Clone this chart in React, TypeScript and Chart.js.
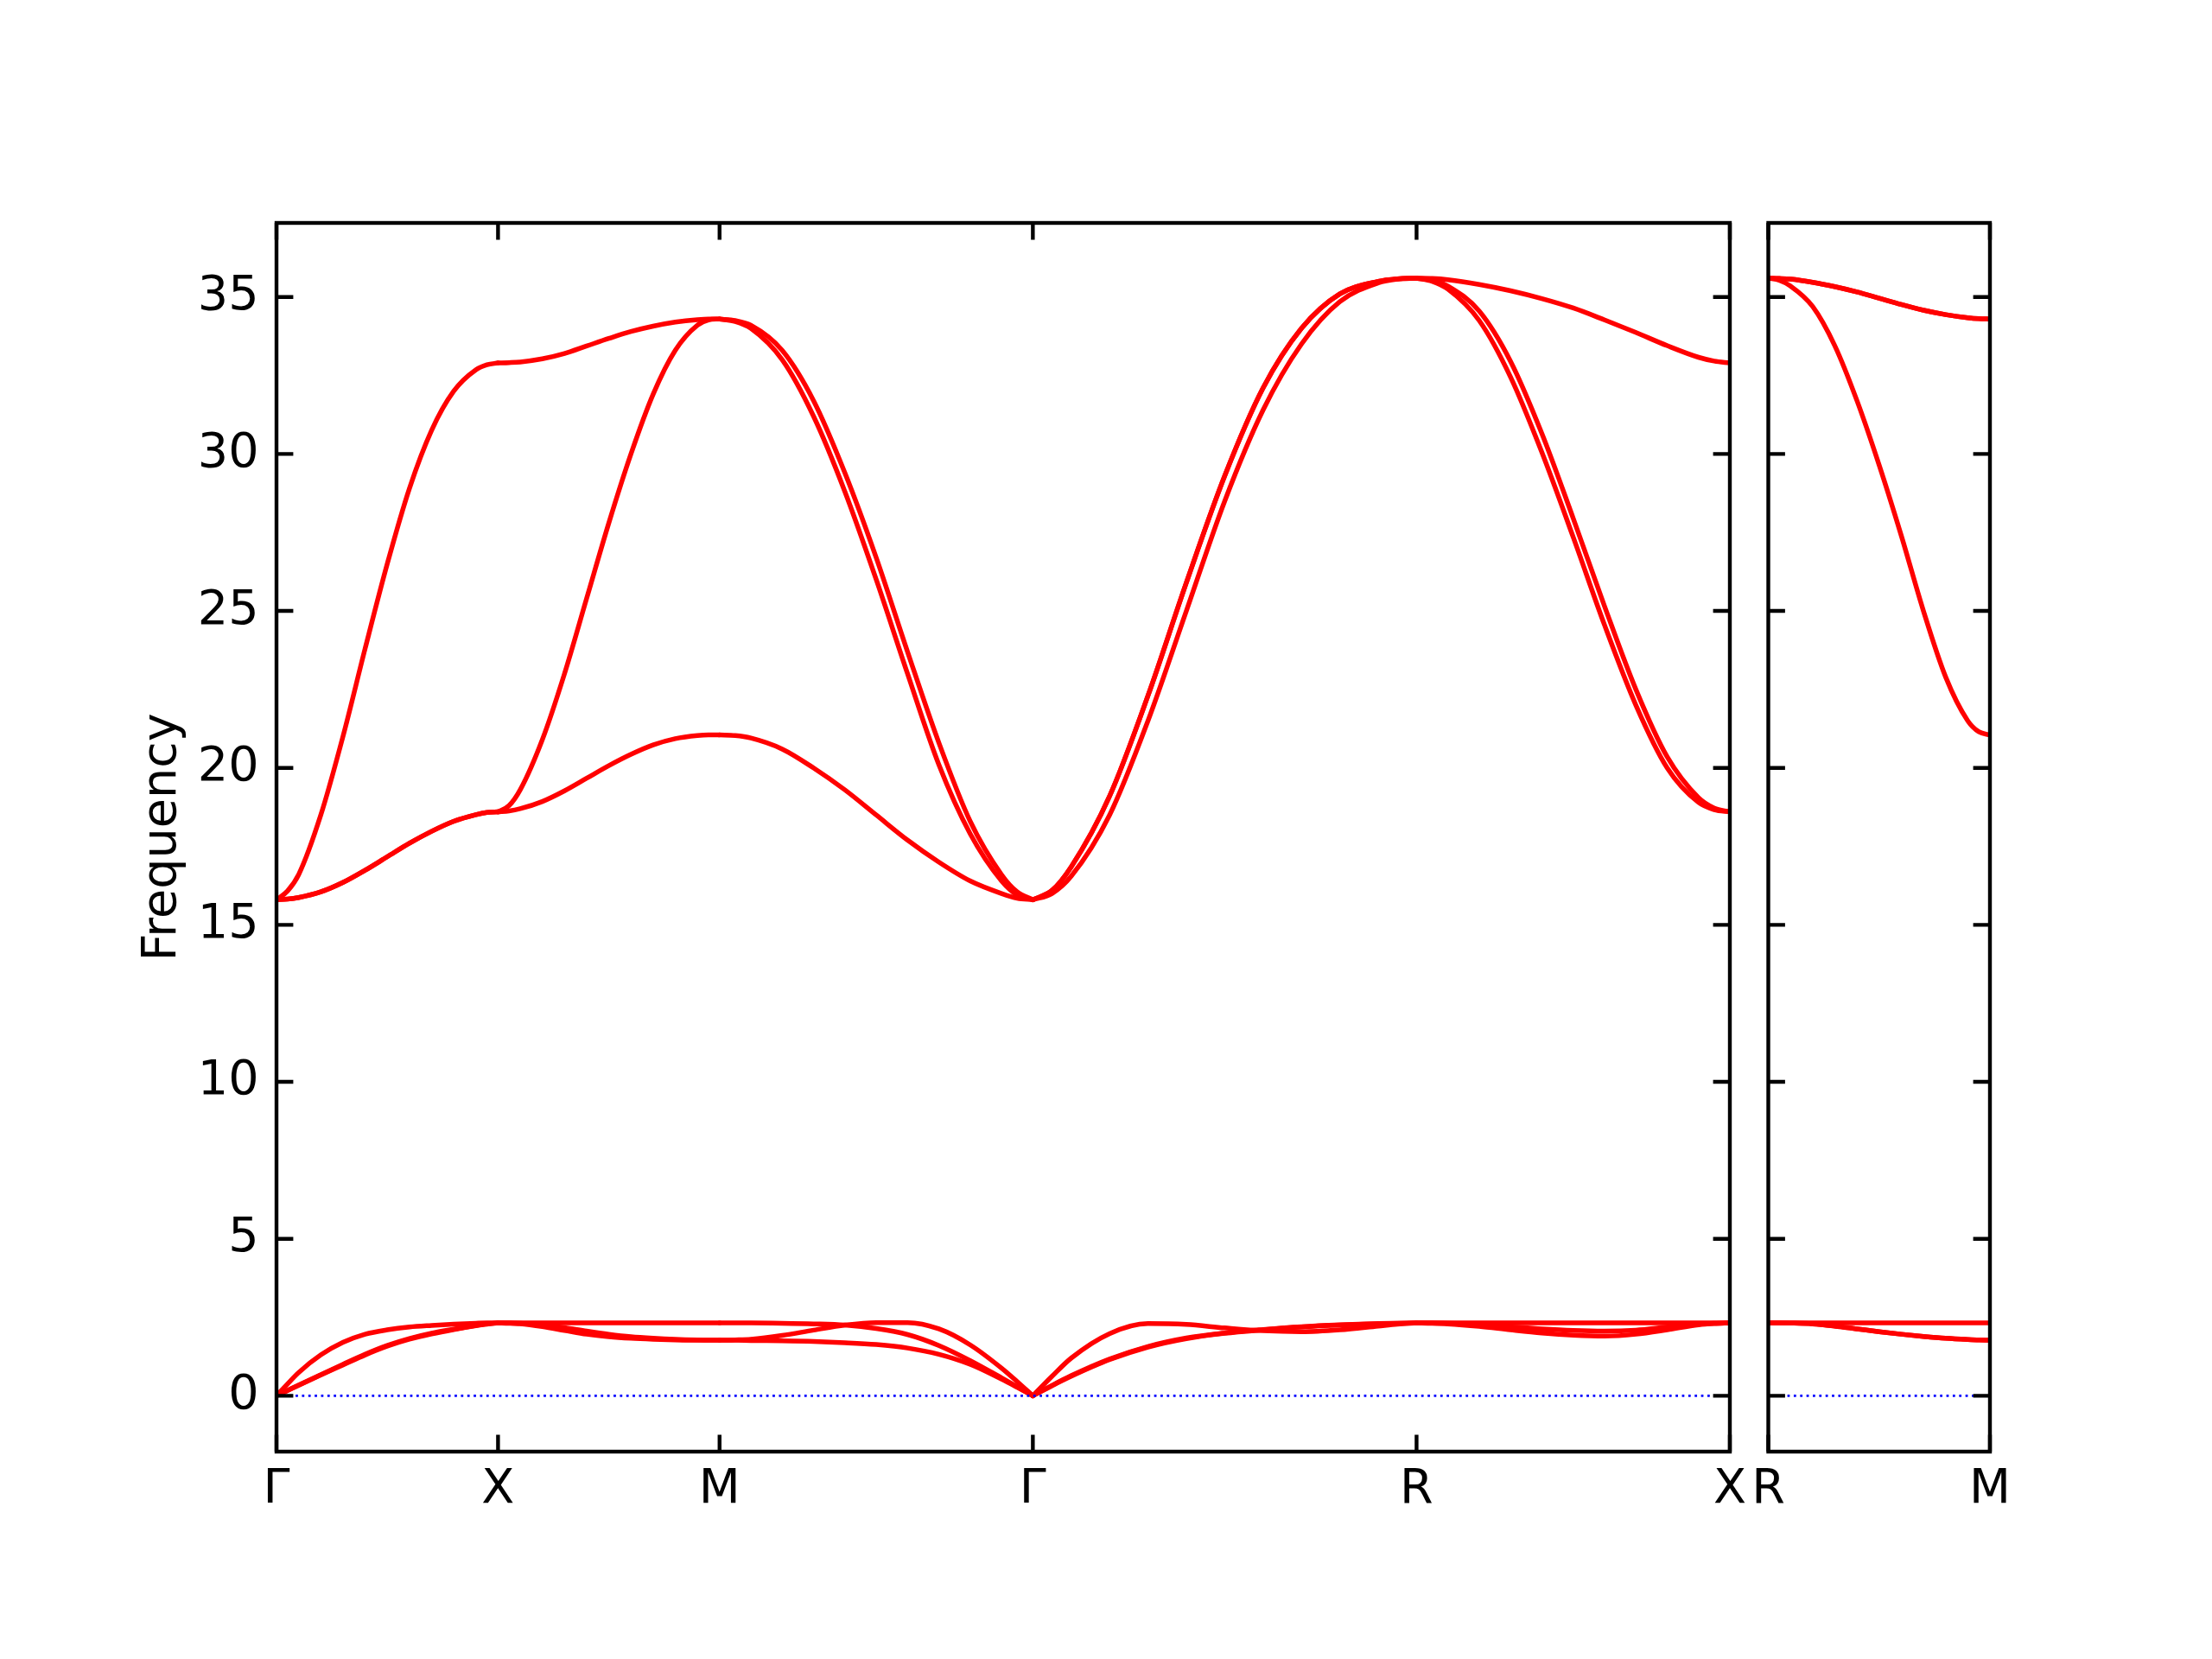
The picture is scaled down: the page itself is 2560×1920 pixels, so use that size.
import React, { useEffect, useRef } from 'react';
import { Chart, registerables } from 'chart.js';

Chart.register(...registerables);

const FONT_FAMILY = "'DejaVu Sans', 'Liberation Sans', sans-serif";
const FONT_SIZE = 55.6;

// ---- k-path ----
const mainLabels = ['Γ', 'X', 'M', 'Γ', 'R', 'X'];
const sideLabels = ['R', 'M'];
const mainSegLengths = [0.5, 0.5, 0.70711, 0.86603, 0.70711];
const sideSegLengths = [0.5];
// fractional positions along each segment where the frequencies below are read
const tSamples = [0, 0.05, 0.1, 0.2, 0.3, 0.4, 0.5, 0.6, 0.7, 0.8, 0.9, 0.95, 1];

// ---- y axis ----
const yTickValues = [0, 5, 10, 15, 20, 25, 30, 35];
const yAxisMin = -1.78;
const yAxisMax = 37.36;
const yAxisTitle = 'Frequency';

// ---- band frequencies at tSamples along each segment ----
// Γ -> X
const bandsGX = [
  [0, 0.38, 0.74, 1.3, 1.7, 1.96, 2.1, 2.19, 2.24, 2.28, 2.31, 2.32, 2.32],
  [0, 0.17, 0.34, 0.67, 1.0, 1.32, 1.6, 1.82, 1.99, 2.12, 2.24, 2.29, 2.32],
  [0, 0.165, 0.33, 0.66, 0.98, 1.3, 1.58, 1.8, 1.97, 2.11, 2.23, 2.28, 2.32],
  [15.8, 15.82, 15.87, 16.05, 16.35, 16.74, 17.17, 17.6, 17.98, 18.3, 18.51, 18.58, 18.6],
  [15.8, 15.82, 15.87, 16.05, 16.35, 16.74, 17.17, 17.6, 17.98, 18.3, 18.51, 18.58, 18.6],
  [15.8, 16.08, 16.6, 18.5, 21.0, 23.8, 26.5, 28.9, 30.75, 32.0, 32.68, 32.84, 32.9],
];
// X -> M
const bandsXM = [
  [2.32, 2.32, 2.32, 2.32, 2.32, 2.32, 2.32, 2.32, 2.32, 2.32, 2.32, 2.32, 2.32],
  [2.32, 2.31, 2.29, 2.2, 2.08, 1.96, 1.88, 1.83, 1.8, 1.78, 1.77, 1.77, 1.77],
  [2.32, 2.32, 2.31, 2.26, 2.17, 2.06, 1.96, 1.88, 1.83, 1.795, 1.775, 1.77, 1.77],
  [18.6, 18.63, 18.7, 18.93, 19.27, 19.67, 20.07, 20.43, 20.73, 20.93, 21.03, 21.05, 21.05],
  [18.6, 18.8, 19.3, 20.9, 23.0, 25.4, 27.8, 30.0, 31.9, 33.3, 34.1, 34.27, 34.3],
  [32.9, 32.91, 32.93, 33.03, 33.2, 33.44, 33.68, 33.9, 34.07, 34.2, 34.28, 34.3, 34.3],
];
// M -> Γ
const bandsMG = [
  [1.77, 1.78, 1.8, 1.92, 2.09, 2.25, 2.33, 2.33, 2.13, 1.62, 0.88, 0.45, 0],
  [2.32, 2.32, 2.32, 2.31, 2.29, 2.25, 2.14, 1.95, 1.6, 1.12, 0.57, 0.29, 0],
  [1.77, 1.77, 1.76, 1.75, 1.73, 1.69, 1.63, 1.52, 1.32, 1.0, 0.53, 0.27, 0],
  [21.05, 21.03, 20.95, 20.6, 20.0, 19.3, 18.5, 17.7, 17.0, 16.4, 16.0, 15.85, 15.8],
  [34.3, 34.22, 34.0, 33.0, 31.2, 28.8, 26.0, 23.0, 20.1, 17.9, 16.4, 15.95, 15.8],
  [34.3, 34.25, 34.1, 33.3, 31.7, 29.4, 26.7, 23.7, 20.8, 18.3, 16.6, 16.05, 15.8],
];
// Γ -> R
const bandsGR = [
  [0, 0.62, 1.2, 1.98, 2.3, 2.27, 2.16, 2.07, 2.04, 2.1, 2.22, 2.28, 2.32],
  [0, 0.33, 0.64, 1.17, 1.57, 1.84, 2.0, 2.11, 2.2, 2.26, 2.3, 2.31, 2.32],
  [0, 0.32, 0.62, 1.15, 1.55, 1.82, 1.99, 2.1, 2.19, 2.25, 2.29, 2.31, 2.32],
  [15.8, 16.0, 16.55, 18.5, 21.5, 25.0, 28.5, 31.4, 33.5, 34.85, 35.45, 35.57, 35.6],
  [15.8, 16.1, 16.85, 19.1, 22.3, 25.9, 29.3, 32.1, 34.0, 35.1, 35.5, 35.58, 35.6],
  [15.8, 16.1, 16.85, 19.1, 22.3, 25.9, 29.3, 32.1, 34.0, 35.1, 35.5, 35.58, 35.6],
];
// R -> X
const bandsRX = [
  [2.32, 2.32, 2.32, 2.32, 2.32, 2.32, 2.32, 2.32, 2.32, 2.32, 2.32, 2.32, 2.32],
  [2.32, 2.31, 2.29, 2.21, 2.1, 2.0, 1.93, 1.9, 1.96, 2.1, 2.26, 2.3, 2.32],
  [2.32, 2.32, 2.31, 2.27, 2.2, 2.13, 2.08, 2.06, 2.09, 2.19, 2.28, 2.31, 2.32],
  [35.6, 35.5, 35.25, 34.25, 32.45, 30.05, 27.35, 24.55, 22.0, 20.0, 18.9, 18.67, 18.6],
  [35.6, 35.54, 35.35, 34.55, 32.95, 30.65, 27.95, 25.15, 22.5, 20.35, 19.05, 18.72, 18.6],
  [35.6, 35.59, 35.55, 35.4, 35.2, 34.95, 34.65, 34.27, 33.87, 33.45, 33.08, 32.96, 32.9],
];
// R -> M (second panel)
const bandsRM = [
  [2.32, 2.32, 2.32, 2.32, 2.32, 2.32, 2.32, 2.32, 2.32, 2.32, 2.32, 2.32, 2.32],
  [2.32, 2.32, 2.315, 2.29, 2.22, 2.13, 2.04, 1.96, 1.89, 1.83, 1.79, 1.775, 1.77],
  [2.32, 2.32, 2.315, 2.29, 2.22, 2.13, 2.04, 1.96, 1.89, 1.83, 1.79, 1.775, 1.77],
  [35.6, 35.53, 35.35, 34.7, 33.45, 31.7, 29.65, 27.4, 25.0, 22.9, 21.5, 21.15, 21.05],
  [35.6, 35.59, 35.57, 35.47, 35.33, 35.16, 34.96, 34.76, 34.58, 34.44, 34.34, 34.31, 34.3],
  [35.6, 35.59, 35.57, 35.47, 35.33, 35.16, 34.96, 34.76, 34.58, 34.44, 34.34, 34.31, 34.3],
];

const mainSegments = [bandsGX, bandsXM, bandsMG, bandsGR, bandsRX];
const sideSegments = [bandsRM];

const BAND_COLOR = '#ff0000';
const ZERO_COLOR = '#0000ff';

function cumulative(lengths: number[]): number[] {
  const out = [0];
  lengths.forEach((l) => out.push(out[out.length - 1] + l));
  return out;
}

function buildDatasets(segLengths: number[], segments: number[][][]) {
  const ds: any[] = [];
  let start = 0;
  segLengths.forEach((len, s) => {
    segments[s].forEach((band) => {
      ds.push({
        data: band.map((v, i) => ({ x: start + len * tSamples[i], y: v })),
        borderColor: BAND_COLOR,
        borderWidth: 5.5,
        pointRadius: 0,
        cubicInterpolationMode: 'monotone',
        borderJoinStyle: 'round',
        borderCapStyle: 'round',
        order: 1,
      });
    });
    start += len;
  });
  ds.push({
    data: [
      { x: 0, y: 0 },
      { x: start, y: 0 },
    ],
    borderColor: ZERO_COLOR,
    borderWidth: 2.78,
    borderDash: [2.78, 4.58],
    pointRadius: 0,
    order: 0,
  });
  return ds;
}

const TICK_LEN = 19.4;
const FRAME_W = 4.4;

const framePlugin = {
  id: 'bandFrame',
  afterDraw(chart: any) {
    const { ctx, chartArea: a, scales } = chart;
    const xs = scales.x;
    const ys = scales.y;
    const kpos: number[] = chart.options.plugins.bandFrame.kpos;
    ctx.save();
    ctx.strokeStyle = '#000000';
    ctx.lineWidth = FRAME_W;
    ctx.lineCap = 'butt';
    ctx.beginPath();
    yTickValues.forEach((v) => {
      const py = ys.getPixelForValue(v);
      ctx.moveTo(a.left, py);
      ctx.lineTo(a.left + TICK_LEN, py);
      ctx.moveTo(a.right, py);
      ctx.lineTo(a.right - TICK_LEN, py);
    });
    kpos.forEach((v) => {
      const px = xs.getPixelForValue(v);
      ctx.moveTo(px, a.bottom);
      ctx.lineTo(px, a.bottom - TICK_LEN);
      ctx.moveTo(px, a.top);
      ctx.lineTo(px, a.top + TICK_LEN);
    });
    ctx.stroke();
    ctx.lineJoin = 'miter';
    ctx.strokeRect(a.left, a.top, a.right - a.left, a.bottom - a.top);
    ctx.restore();
  },
};

const AREA_TOP = 258;
const AREA_BOTTOM = 1680;
const X_AXIS_H = 100;

function makeConfig(opts: {
  segLengths: number[];
  segments: number[][][];
  labels: string[];
  left: number;
  right: number;
  showY: boolean;
}) {
  const kpos = cumulative(opts.segLengths);
  const total = kpos[kpos.length - 1];
  const yAxisWidth = opts.showY ? 165 : 0;
  return {
    type: 'line',
    data: { datasets: buildDatasets(opts.segLengths, opts.segments) },
    options: {
      animation: false,
      responsive: false,
      devicePixelRatio: 1,
      events: [],
      layout: {
        padding: {
          left: opts.left - yAxisWidth,
          right: 2560 - opts.right,
          top: AREA_TOP,
          bottom: 1920 - AREA_BOTTOM - X_AXIS_H,
        },
      },
      plugins: {
        legend: { display: false },
        tooltip: { enabled: false },
        bandFrame: { kpos },
      },
      scales: {
        x: {
          type: 'linear',
          min: 0,
          max: total,
          bounds: 'data',
          grid: { display: false, drawTicks: false },
          border: { display: false },
          afterFit: (s: any) => {
            s.height = X_AXIS_H;
          },
          afterBuildTicks: (s: any) => {
            s.ticks = kpos.map((v) => ({ value: v }));
          },
          ticks: {
            autoSkip: false,
            maxRotation: 0,
            minRotation: 0,
            padding: 11,
            color: '#000000',
            font: { family: FONT_FAMILY, size: FONT_SIZE },
            callback: (_v: any, i: number) => opts.labels[i],
          },
        },
        y: {
          type: 'linear',
          display: opts.showY,
          min: yAxisMin,
          max: yAxisMax,
          grid: { display: false, drawTicks: false },
          border: { display: false },
          afterFit: (s: any) => {
            s.width = yAxisWidth;
          },
          afterBuildTicks: (s: any) => {
            s.ticks = yTickValues.map((v) => ({ value: v }));
          },
          ticks: {
            padding: 20.5,
            color: '#000000',
            font: { family: FONT_FAMILY, size: FONT_SIZE },
            callback: (v: any) => String(v),
          },
          title: {
            display: opts.showY,
            text: yAxisTitle,
            color: '#000000',
            font: { family: FONT_FAMILY, size: FONT_SIZE },
            padding: { top: 0, bottom: 0 },
          },
        },
      },
    },
    plugins: [framePlugin],
  } as any;
}

function Panel(props: {
  segLengths: number[];
  segments: number[][][];
  labels: string[];
  left: number;
  right: number;
  showY: boolean;
}) {
  const ref = useRef<HTMLCanvasElement | null>(null);
  useEffect(() => {
    if (!ref.current) return;
    const chart = new Chart(ref.current, makeConfig(props));
    return () => chart.destroy();
  }, []);
  return (
    <canvas
      ref={ref}
      width={2560}
      height={1920}
      style={{ position: 'absolute', left: 0, top: 0, width: 2560, height: 1920 }}
    />
  );
}

export default function App() {
  useEffect(() => {
    document.body.style.margin = '0';
  }, []);
  return (
    <div style={{ position: 'relative', width: 2560, height: 1920, background: '#ffffff', overflow: 'hidden' }}>
      <Panel segLengths={mainSegLengths} segments={mainSegments} labels={mainLabels} left={320} right={2002} showY={true} />
      <Panel segLengths={sideSegLengths} segments={sideSegments} labels={sideLabels} left={2046.5} right={2303} showY={false} />
    </div>
  );
}
